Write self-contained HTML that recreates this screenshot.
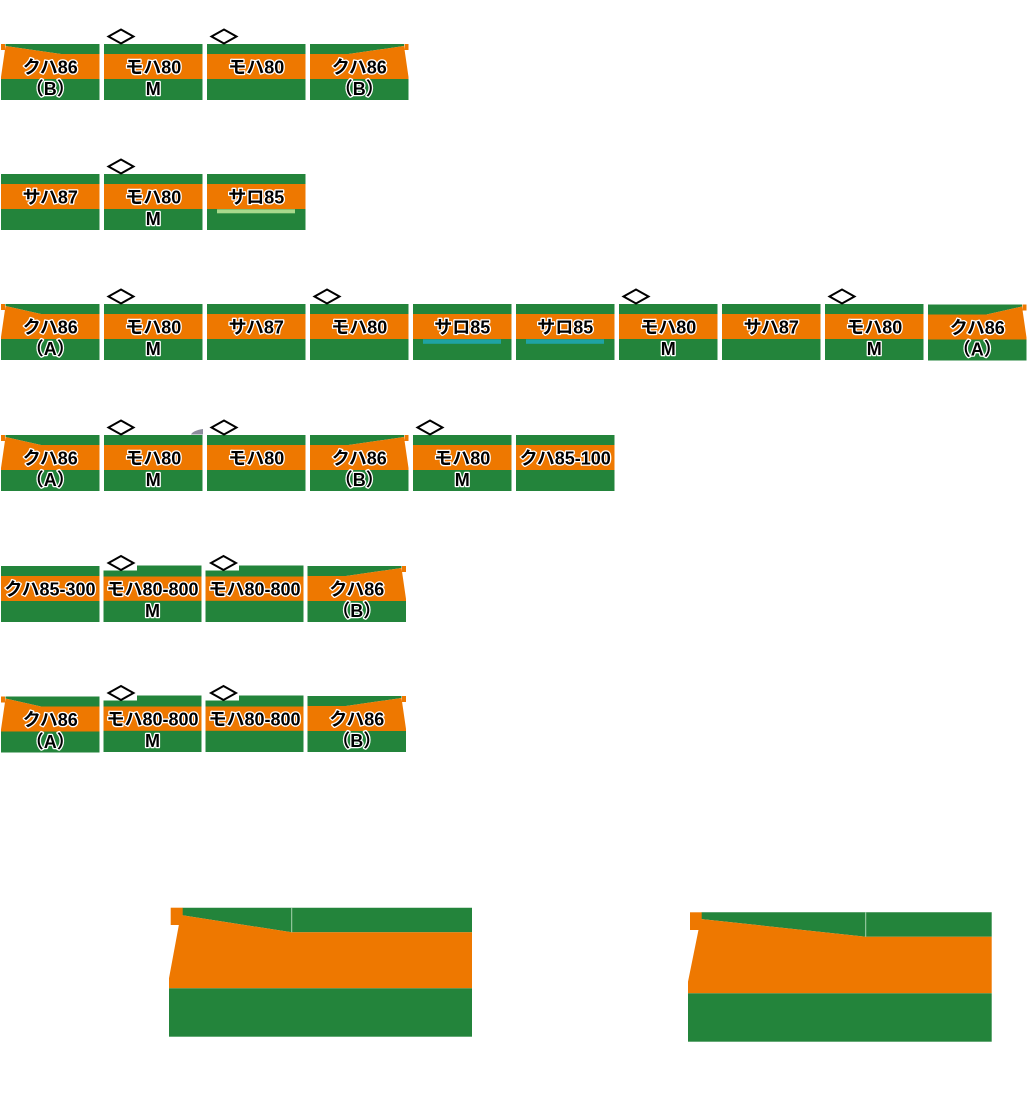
<!DOCTYPE html>
<html>
<head>
<meta charset="utf-8">
<style>
html,body{margin:0;padding:0;background:#fff;}
svg{display:block;}
.t{font-family:"Liberation Sans","Noto Sans CJK JP",sans-serif;font-size:18px;font-weight:bold;fill:#000;stroke:#fff;stroke-width:2.6;paint-order:stroke;stroke-linejoin:round;text-anchor:middle;}
</style>
</head>
<body>
<svg width="1027" height="1101" viewBox="0 0 1027 1101" xmlns="http://www.w3.org/2000/svg">
<defs>
  <g id="mid">
    <rect x="0" y="0" width="98.5" height="56" fill="#23843B"/>
    <rect x="0" y="10" width="98.5" height="25" fill="#EE7800"/>
  </g>
  <g id="notch">
    <polygon points="0,5 33.5,5 33.5,0 98,0 98,56.5 0,56.5" fill="#23843B"/>
    <rect x="0" y="11" width="98" height="24.3" fill="#EE7800"/>
  </g>
  <g id="cabA">
    <polygon points="4.5,0 98.5,0 98.5,10 40,10 4.5,2" fill="#23843B"/>
    <polygon points="4.5,2 40,10 98.5,10 98.5,35 0,35 0,33" fill="#EE7800"/>
    <rect x="0" y="0" width="4" height="6" fill="#EE7800"/>
    <rect x="0" y="35" width="98.5" height="21" fill="#23843B"/>
  </g>
  <g id="cabB">
    <polygon points="4.5,0 98.5,0 98.5,10 60,10 4.5,2" fill="#23843B"/>
    <polygon points="4.5,2 60,10 98.5,10 98.5,35 0,35 0,33" fill="#EE7800"/>
    <rect x="0" y="0" width="4" height="6" fill="#EE7800"/>
    <rect x="0" y="35" width="98.5" height="21" fill="#23843B"/>
  </g>
  <polygon id="dia" points="4.5,-7.5 17,-14.5 29.5,-7.5 17,-0.5" fill="#fff" stroke="#000" stroke-width="2"/>
</defs>

<!-- Row 1 -->
<g>
  <use href="#cabB" transform="translate(1,44)"/>
  <use href="#mid" transform="translate(104,44)"/>
  <use href="#mid" transform="translate(207,44)"/>
  <use href="#cabB" transform="translate(408.5,44) scale(-1,1)"/>
  <use href="#dia" transform="translate(104,44)"/>
  <use href="#dia" transform="translate(207,44)"/>
  <text class="t" x="50.25" y="73.3">クハ86</text>
  <text class="t" x="50.25" y="95">（B）</text>
  <text class="t" x="153.25" y="73.3">モハ80</text>
  <text class="t" x="153.25" y="95">M</text>
  <text class="t" x="256.25" y="73.3">モハ80</text>
  <text class="t" x="359.25" y="73.3">クハ86</text>
  <text class="t" x="359.25" y="95">（B）</text>
</g>

<!-- Row 2 -->
<g>
  <use href="#mid" transform="translate(1,174)"/>
  <use href="#mid" transform="translate(104,174)"/>
  <use href="#mid" transform="translate(207,174)"/>
  <rect x="217" y="209.3" width="78" height="4" fill="#A8D98C"/>
  <use href="#dia" transform="translate(104,174)"/>
  <text class="t" x="50.25" y="203.3">サハ87</text>
  <text class="t" x="153.25" y="203.3">モハ80</text>
  <text class="t" x="153.25" y="225">M</text>
  <text class="t" x="256.25" y="203.3">サロ85</text>
</g>

<!-- Row 3 -->
<g>
  <use href="#cabA" transform="translate(1,304)"/>
  <use href="#mid" transform="translate(104,304)"/>
  <use href="#mid" transform="translate(207,304)"/>
  <use href="#mid" transform="translate(310,304)"/>
  <use href="#mid" transform="translate(413,304)"/>
  <use href="#mid" transform="translate(516,304)"/>
  <use href="#mid" transform="translate(619,304)"/>
  <use href="#mid" transform="translate(722,304)"/>
  <use href="#mid" transform="translate(825,304)"/>
  <use href="#cabA" transform="translate(1026.5,304.5) scale(-1,1)"/>
  <rect x="423" y="339.3" width="78" height="4.5" fill="#1FA3A3"/>
  <rect x="526" y="339.3" width="78" height="4.5" fill="#1FA3A3"/>
  <use href="#dia" transform="translate(104,304)"/>
  <use href="#dia" transform="translate(310,304)"/>
  <use href="#dia" transform="translate(619,304)"/>
  <use href="#dia" transform="translate(825,304)"/>
  <text class="t" x="50.25" y="333.3">クハ86</text>
  <text class="t" x="50.25" y="355">（A）</text>
  <text class="t" x="153.25" y="333.3">モハ80</text>
  <text class="t" x="153.25" y="355">M</text>
  <text class="t" x="256.25" y="333.3">サハ87</text>
  <text class="t" x="359.25" y="333.3">モハ80</text>
  <text class="t" x="462.25" y="333.3">サロ85</text>
  <text class="t" x="565.25" y="333.3">サロ85</text>
  <text class="t" x="668.25" y="333.3">モハ80</text>
  <text class="t" x="668.25" y="355">M</text>
  <text class="t" x="771.25" y="333.3">サハ87</text>
  <text class="t" x="874.25" y="333.3">モハ80</text>
  <text class="t" x="874.25" y="355">M</text>
  <text class="t" x="977.25" y="333.8">クハ86</text>
  <text class="t" x="977.25" y="355.5">（A）</text>
</g>

<!-- Row 4 -->
<g>
  <use href="#cabA" transform="translate(1,435)"/>
  <use href="#mid" transform="translate(104,435)"/>
  <use href="#mid" transform="translate(207,435)"/>
  <use href="#cabB" transform="translate(408.5,435) scale(-1,1)"/>
  <use href="#mid" transform="translate(413,435)"/>
  <use href="#mid" transform="translate(516,435)"/>
  <path d="M203,429 L203,434.5 L191,434.5 Q193,430.5 203,429 Z" fill="#8C8C9C"/>
  <use href="#dia" transform="translate(104,435)"/>
  <use href="#dia" transform="translate(207,435)"/>
  <use href="#dia" transform="translate(413,435)"/>
  <text class="t" x="50.25" y="464.3">クハ86</text>
  <text class="t" x="50.25" y="486">（A）</text>
  <text class="t" x="153.25" y="464.3">モハ80</text>
  <text class="t" x="153.25" y="486">M</text>
  <text class="t" x="256.25" y="464.3">モハ80</text>
  <text class="t" x="359.25" y="464.3">クハ86</text>
  <text class="t" x="359.25" y="486">（B）</text>
  <text class="t" x="462.25" y="464.3">モハ80</text>
  <text class="t" x="462.25" y="486">M</text>
  <text class="t" x="565.25" y="464.3">クハ85-100</text>
</g>

<!-- Row 5 -->
<g>
  <use href="#mid" transform="translate(1,566)"/>
  <use href="#notch" transform="translate(103.5,565.5)"/>
  <use href="#notch" transform="translate(205.5,565.5)"/>
  <use href="#cabB" transform="translate(406,566) scale(-1,1)"/>
  <use href="#dia" transform="translate(104,570.5)"/>
  <use href="#dia" transform="translate(206.5,570.5)"/>
  <text class="t" x="50" y="595.3">クハ85-300</text>
  <text class="t" x="152.5" y="595.3">モハ80-800</text>
  <text class="t" x="152.5" y="617">M</text>
  <text class="t" x="254.5" y="595.3">モハ80-800</text>
  <text class="t" x="356.75" y="595.3">クハ86</text>
  <text class="t" x="356.75" y="617">（B）</text>
</g>

<!-- Row 6 -->
<g>
  <use href="#cabA" transform="translate(1,696.5)"/>
  <use href="#notch" transform="translate(103.5,695.5)"/>
  <use href="#notch" transform="translate(205.5,695.5)"/>
  <use href="#cabB" transform="translate(406,696) scale(-1,1)"/>
  <use href="#dia" transform="translate(104,700.5)"/>
  <use href="#dia" transform="translate(206.5,700.5)"/>
  <text class="t" x="50.25" y="726">クハ86</text>
  <text class="t" x="50.25" y="748">（A）</text>
  <text class="t" x="152.5" y="725.3">モハ80-800</text>
  <text class="t" x="152.5" y="747">M</text>
  <text class="t" x="254.5" y="725.3">モハ80-800</text>
  <text class="t" x="356.75" y="725.3">クハ86</text>
  <text class="t" x="356.75" y="747">（B）</text>
</g>

<!-- Big shape 1 -->
<g>
  <polygon points="182.5,907.7 472,907.7 472,932.3 291.7,932.3 180.7,915" fill="#23843B"/>
  <polygon points="180.7,915 291.7,932.3 472,932.3 472,988.3 169,988.3 169,978.3" fill="#EE7800"/>
  <rect x="170.7" y="907.7" width="12" height="17.3" fill="#EE7800"/>
  <rect x="169" y="988.3" width="303" height="48.4" fill="#23843B"/>
  <line x1="291.7" y1="907.7" x2="291.7" y2="932.3" stroke="#A8D3B0" stroke-width="1"/>
</g>

<!-- Big shape 2 -->
<g>
  <polygon points="701.5,912.3 991.7,912.3 991.7,936.7 865.7,936.7 700.7,919" fill="#23843B"/>
  <polygon points="700.7,919 865.7,936.7 991.7,936.7 991.7,993.3 688,993.3 688,981.7" fill="#EE7800"/>
  <rect x="690" y="912.3" width="11.7" height="17.7" fill="#EE7800"/>
  <rect x="688" y="993.3" width="303.7" height="48.4" fill="#23843B"/>
  <line x1="865.7" y1="912.3" x2="865.7" y2="936.7" stroke="#A8D3B0" stroke-width="1"/>
</g>
</svg>
</body>
</html>
